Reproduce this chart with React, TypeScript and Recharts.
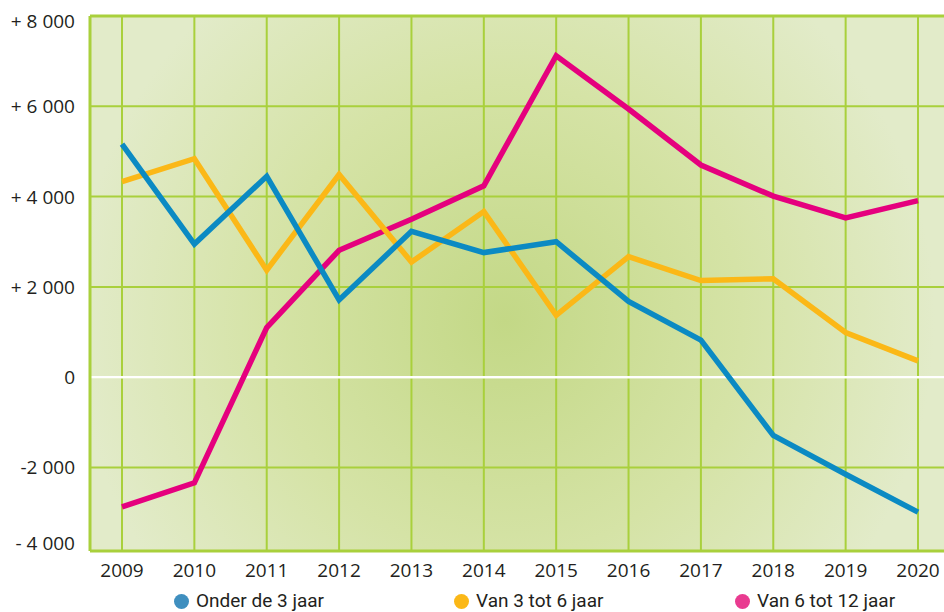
import React from 'react';
import { LineChart, Line, XAxis, YAxis, CartesianGrid, ReferenceLine, Legend } from 'recharts';

const years = ['2009', '2010', '2011', '2012', '2013', '2014', '2015', '2016', '2017', '2018', '2019', '2020'];
const onderDrie = [5160, 2950, 4450, 1710, 3230, 2760, 3000, 1680, 820, -1290, -2150, -2990];
const drieTotZes = [4330, 4840, 2370, 4490, 2550, 3670, 1370, 2670, 2140, 2180, 990, 360];
const zesTotTwaalf = [-2875, -2340, 1100, 2810, 3500, 4240, 7120, 5940, 4700, 4010, 3530, 3910];

const yTicks = [-3850, -2000, 0, 2000, 4000, 6000, 8000];
const yTickLabels = ['- 4 000', '-2 000', '0', '+ 2 000', '+ 4 000', '+ 6 000', '+ 8 000'];

const seriesNames = ['Onder de 3 jaar', 'Van 3 tot 6 jaar', 'Van 6 tot 12 jaar'];
const lineColors = ['#0b8ac3', '#fbb817', '#e5007e'];
const legendColors = ['#3f8fbf', '#fbb817', '#e93b90'];

const data = years.map((year, i) => ({
  year,
  onder: onderDrie[i],
  drie: drieTotZes[i],
  zes: zesTotTwaalf[i],
}));

const GRID = '#a9d03c';
const tickFont = '"Open Sans", sans-serif';

const YTick = (props: any) => {
  const { x, y, payload } = props;
  const idx = yTicks.indexOf(payload.value);
  let dy = 0;
  if (payload.value === 8000) dy = 5;
  if (payload.value === -3850) dy = -8;
  return (
    <text x={x} y={y + dy} textAnchor="end" dominantBaseline="central" fill="#231f20" fontSize={19} fontFamily={tickFont}>
      {yTickLabels[idx]}
    </text>
  );
};

const LegendContent = () => {
  const lefts = [174, 454, 735];
  return (
    <div style={{ position: 'relative', height: 31, width: 960 }}>
      {seriesNames.map((name, i) => (
        <div
          key={name}
          style={{
            position: 'absolute',
            left: lefts[i],
            top: 9,
            display: 'flex',
            alignItems: 'center',
            fontFamily: 'Roboto, sans-serif',
            fontSize: 19,
            lineHeight: '22px',
            color: '#231f20',
            whiteSpace: 'nowrap',
          }}
        >
          <span style={{ width: 15, height: 15, borderRadius: '50%', background: legendColors[i], marginRight: 7, display: 'inline-block' }} />
          {name}
        </div>
      ))}
    </div>
  );
};

export default function App() {
  return (
    <div style={{ position: 'absolute', left: 0, top: 0, width: 944, height: 612, overflow: 'hidden', background: '#fff' }}>
      <LineChart width={960} height={612} data={data} margin={{ top: 16, right: 10, bottom: 0, left: 10 }}>
        <defs>
          <radialGradient id="bgGlow" gradientUnits="userSpaceOnUse" cx={505} cy={320} r={430}>
            <stop offset="0%" stopColor="#c3d886" />
            <stop offset="55%" stopColor="#d5e3a6" />
            <stop offset="100%" stopColor="#e2ebc9" />
          </radialGradient>
        </defs>
        <CartesianGrid stroke={GRID} strokeWidth={2} fill="url(#bgGlow)" fillOpacity={1} />
        <XAxis
          dataKey="year"
          height={30}
          padding={{ left: 32, right: 32 }}
          tickLine={false}
          tickSize={0}
          tickMargin={13}
          axisLine={{ stroke: GRID, strokeWidth: 3 }}
          tick={{ fill: '#231f20', fontSize: 19, fontFamily: tickFont }}
          interval={0}
        />
        <YAxis
          width={80}
          domain={[-3850, 8000]}
          ticks={yTicks}
          tickLine={false}
          tickSize={0}
          tickMargin={15}
          axisLine={{ stroke: GRID, strokeWidth: 3 }}
          tick={<YTick />}
          interval={0}
        />
        <ReferenceLine y={0} stroke="#ffffff" strokeWidth={2.5} />
        <ReferenceLine y={8000} stroke={GRID} strokeWidth={3} />
        <Line dataKey="zes" name={seriesNames[2]} stroke={lineColors[2]} strokeWidth={5.5} dot={false} isAnimationActive={false} />
        <Line dataKey="drie" name={seriesNames[1]} stroke={lineColors[1]} strokeWidth={5.5} dot={false} isAnimationActive={false} />
        <Line dataKey="onder" name={seriesNames[0]} stroke={lineColors[0]} strokeWidth={5.5} dot={false} isAnimationActive={false} />
        <Legend verticalAlign="bottom" height={31} content={<LegendContent />} wrapperStyle={{ left: 0, width: 960 }} />
      </LineChart>
    </div>
  );
}
